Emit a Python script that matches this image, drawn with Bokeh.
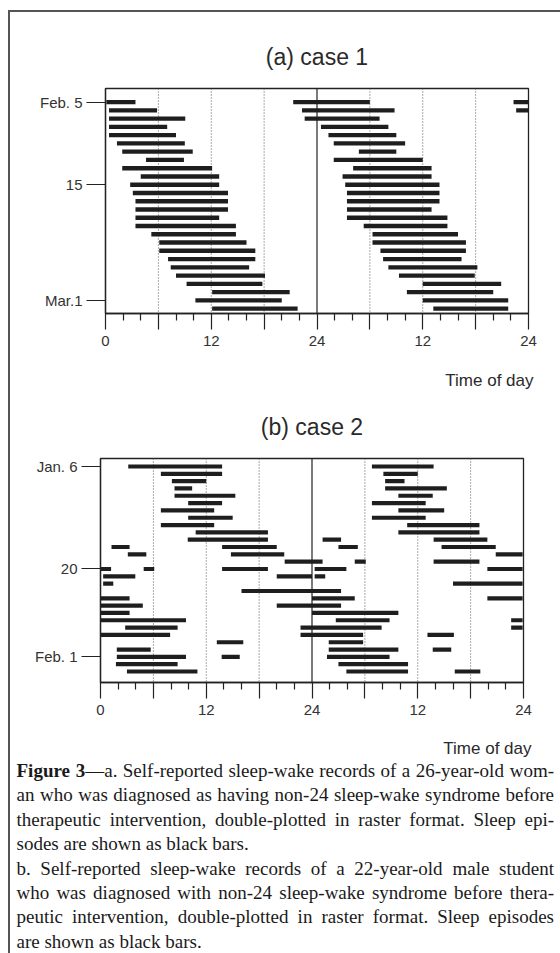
from bokeh.plotting import figure
from bokeh.models import Range1d, FixedTicker, Span, ColumnDataSource
from bokeh.layouts import column
from bokeh.core.properties import value
from bokeh.embed import file_html
from bokeh.resources import INLINE

# ---------------- data: panel (a) case 1 (row = day from Feb. 5, hours 0-48 double plot)
a_row = [0, 0, 0, 1, 1, 1, 2, 2, 3, 3, 4, 4, 5, 5, 6, 6, 7, 7, 8, 8, 9, 9, 10, 10,
         11, 11, 12, 12, 13, 13, 14, 14, 15, 15, 16, 16, 17, 17, 18, 18, 19, 19,
         20, 20, 21, 21, 22, 22, 23, 23, 24, 24, 25, 25]
a_start = [0.1, 21.3, 46.3, 0.4, 22.3, 46.6, 0.4, 22.6, 0.4, 24.45, 0.4, 25.3,
           1.3, 25.9, 1.9, 28.75, 4.6, 25.9, 1.9, 28.1, 4.0, 26.9, 2.8, 27.2,
           3.1, 27.4, 3.4, 27.4, 3.4, 27.4, 3.4, 27.4, 3.4, 29.3, 5.2, 30.3,
           6.1, 30.3, 6.1, 31.2, 7.1, 31.5, 7.4, 32.1, 8.0, 33.3, 9.2, 36.0,
           12.1, 34.2, 10.2, 36.0, 12.1, 37.2]
a_end = [3.4, 30.0, 48.0, 5.85, 32.8, 48.0, 9.05, 31.1, 7.0, 32.1, 8.0, 33.0,
         9.0, 34.0, 9.9, 33.0, 8.9, 36.0, 12.1, 37.0, 12.9, 37.0, 12.9, 37.9,
         13.9, 37.9, 13.9, 37.9, 13.9, 37.0, 12.9, 38.8, 14.8, 38.8, 14.8, 40.0,
         16.0, 40.9, 17.0, 40.9, 17.0, 40.4, 16.3, 42.2, 18.1, 41.9, 17.8, 44.9,
         20.9, 44.0, 20.0, 45.7, 21.8, 45.7]
a_yticks = [0, 10, 24]
a_ylabels = ["Feb. 5", "15", "Mar.1"]

# ---------------- data: panel (b) case 2 (row = day from Jan. 6)
b_row = [0, 0, 1, 1, 2, 2, 3, 3, 4, 4, 5, 5, 6, 6, 7, 7, 8, 8, 9, 9,
         10, 10, 10, 11, 11, 11, 11, 12, 12, 12, 13, 13, 13,
         14, 14, 14, 14, 14, 15, 15, 15, 16, 16, 17, 18, 18, 18, 19, 19,
         20, 20, 21, 21, 21, 22, 22, 22, 23, 23, 23, 24, 24,
         25, 25, 25, 26, 26, 26, 27, 27, 28, 28, 28]
b_start = [3.15, 30.8, 6.85, 32.1, 8.1, 32.3, 8.4, 32.3, 8.4, 33.8, 9.95, 30.8,
           6.85, 33.8, 9.95, 30.8, 6.85, 34.8, 10.8, 33.8,
           9.9, 25.2, 37.8, 1.25, 13.8, 27.0, 38.7, 3.1, 14.8, 44.85, 20.9, 28.85, 37.8,
           0.0, 4.9, 13.8, 24.3, 43.9, 0.3, 20.0, 24.3, 0.3, 40.0, 16.0, 0.0, 24.0, 43.9,
           0.0, 20.0, 0.0, 24.0, 0.0, 26.7, 46.6, 2.8, 22.7, 46.6, 0.0, 22.7, 37.1,
           13.2, 25.9, 1.85, 25.9, 37.7, 1.85, 13.75, 25.7, 1.75, 27.0, 3.0, 27.9, 40.2]
b_end = [13.8, 37.8, 13.8, 36.0, 12.0, 34.5, 10.4, 39.3, 15.3, 37.7, 13.8, 36.9,
         12.9, 39.0, 15.0, 36.9, 12.9, 43.0, 19.0, 43.0,
         19.0, 27.3, 43.9, 3.3, 20.0, 29.2, 44.85, 5.2, 20.85, 47.9, 25.2, 30.1, 43.0,
         1.2, 6.1, 19.0, 27.9, 47.9, 3.95, 24.0, 25.5, 1.45, 47.9, 27.3, 3.3, 28.85, 47.9,
         4.8, 27.3, 3.3, 33.8, 9.7, 32.8, 47.9, 8.75, 31.9, 47.9, 7.9, 29.8, 40.1,
         16.2, 29.8, 5.7, 33.8, 39.8, 9.7, 15.8, 32.8, 8.75, 34.9, 11.0, 34.9, 43.1]
b_yticks = [0, 14, 26]
b_ylabels = ["Jan. 6", "20", "Feb. 1"]

x_major = [0, 6, 12, 18, 24, 30, 36, 42, 48]
x_minor = [2, 4, 8, 10, 14, 16, 20, 22, 26, 28, 32, 34, 38, 40, 44, 46]
x_labels = ["0", "", "12", "", "24", "", "12", "", "24"]
dotted_hours = [6, 12, 18, 30, 36, 42]
solid_hours = [24]

titles = ["(a) case 1", "(b) case 2"]
x_title = "Time of day"
caption_lines = [
    "**Figure 3**—a. Self-reported sleep-wake records of a 26-year-old wom-",
    "an who was diagnosed as having non-24 sleep-wake syndrome before",
    "therapeutic intervention, double-plotted in raster format. Sleep epi-",
    "sodes are shown as black bars.",
    "b. Self-reported sleep-wake records of a 22-year-old male student",
    "who was diagnosed with non-24 sleep-wake syndrome before thera-",
    "peutic intervention, double-plotted in raster format. Sleep episodes",
    "are shown as black bars.",
]
caption_justify = [True, True, True, False, True, True, True, False]

assert len(a_row) == len(a_start) == len(a_end)
assert len(b_row) == len(b_start) == len(b_end)

SANS = "Liberation Sans"
INK = "#1e1e1e"
W = 560


def no_align(p):
    try:
        p.frame_align = False
    except Exception:
        pass
    return p


def text_fig(height):
    f = figure(width=W, height=height, x_range=Range1d(0, W), y_range=Range1d(height, 0),
               toolbar_location=None, output_backend="svg", min_border=0,
               x_axis_type=None, y_axis_type=None)
    f.grid.visible = False
    f.outline_line_color = None
    f.border_fill_color = None
    f.background_fill_color = None
    return no_align(f)


def add_text(f, xs, ys, texts, size, align, font=SANS, style="normal", color="#2a2a2a"):
    f.text(x="x", y="y", text="text", source=ColumnDataSource(dict(x=xs, y=ys, text=texts)),
           text_font=value(font), text_font_size=value(size), text_font_style=style,
           text_baseline="middle", text_align=align, text_color=color)


def make_panel(rows, starts, ends, yr, yticks, ylabels, height, mb, bar_h):
    p = figure(width=W, height=height, x_range=Range1d(0, 48), y_range=Range1d(*yr),
               toolbar_location=None, output_backend="svg",
               min_border_left=mb[0], min_border_right=mb[1],
               min_border_top=mb[2], min_border_bottom=mb[3])
    p.border_fill_color = None
    p.background_fill_color = None
    p.outline_line_color = "#222222"
    p.outline_line_width = 1.3
    p.grid.grid_line_color = None

    for h in dotted_hours:
        p.add_layout(Span(location=h, dimension="height", line_color="#555555",
                          line_dash="1 2", line_width=1, level="underlay"))
    for h in solid_hours:
        p.add_layout(Span(location=h, dimension="height", line_color="#222222",
                          line_width=1.2, level="underlay"))

    src = ColumnDataSource(dict(y=rows, left=starts, right=ends))
    p.hbar(y="y", left="left", right="right", height=bar_h, source=src,
           fill_color=INK, line_color=None)

    xa = p.xaxis[0]
    xa.ticker = FixedTicker(ticks=x_major, minor_ticks=x_minor)
    xa.major_label_overrides = {t: l for t, l in zip(x_major, x_labels)}
    xa.major_tick_in = 0
    xa.major_tick_out = 16
    xa.minor_tick_in = 0
    xa.minor_tick_out = 7
    xa.major_label_standoff = 6
    xa.axis_line_color = "#222222"
    xa.axis_line_width = 1.3
    xa.major_tick_line_color = "#222222"
    xa.major_tick_line_width = 1.2
    xa.minor_tick_line_color = "#222222"
    xa.minor_tick_line_width = 1.2

    ya = p.yaxis[0]
    ya.ticker = FixedTicker(ticks=yticks, minor_ticks=[])
    ya.major_label_overrides = {t: l for t, l in zip(yticks, ylabels)}
    ya.major_tick_in = 0
    ya.major_tick_out = 19
    ya.minor_tick_line_color = None
    ya.major_label_standoff = 4
    ya.axis_line_color = "#222222"
    ya.axis_line_width = 1.3
    ya.major_tick_line_color = "#222222"
    ya.major_tick_line_width = 1.2

    for ax in (xa, ya):
        ax.major_label_text_font = SANS
        ax.major_label_text_font_size = "15px"
        ax.major_label_text_color = "#333333"
    return no_align(p)


# page strips (heights add up to 953)
t1 = text_fig(80)                       # 0..80
add_text(t1, [316.5], [56], [titles[0]], "23px", "center")

fa = make_panel(a_row, a_start, a_end, (25.6, -1.66), a_yticks, a_ylabels,
                278, (105, 32, 8, 45), 0.52)  # 80..358, frame 88..313

t2 = text_fig(92)                       # 358..450
add_text(t2, [533], [22], [x_title], "17px", "right")
add_text(t2, [311.5], [68], [titles[1]], "23px", "center")

fb = make_panel(b_row, b_start, b_end, (29.5, -1.09), b_yticks, b_ylabels,
                278, (100, 37, 8, 46), 0.57)  # 450..728, frame 458..682

fc = text_fig(225)                      # 728..953
add_text(fc, [531], [20], [x_title], "17px", "right")

# ---------------- caption (justified with Times/Liberation Serif metrics)
FS = 19.0
TR = dict(zip("abcdefghijklmnopqrstuvwxyz",
              [444, 500, 444, 500, 444, 333, 500, 500, 278, 278, 500, 278, 778,
               500, 500, 500, 500, 333, 389, 278, 500, 500, 722, 500, 500, 444]))
TR.update({" ": 250, "-": 333, ".": 250, ",": 250, "\u2014": 1000, "S": 556, "F": 556})
for d in "0123456789":
    TR[d] = 500
TB = {"F": 611, "i": 278, "g": 500, "u": 556, "r": 444, "e": 444, "3": 500, " ": 250}


def tw(s, bold):
    tab = TB if bold else TR
    return sum(tab.get(c, 500) for c in s) * FS / 1000.0


X0, X1 = 16.0, 553.5
Y0, DY = 42.0, 24.4
reg = dict(x=[], y=[], text=[])
bld = dict(x=[], y=[], text=[])
state = False
for i, (line, just) in enumerate(zip(caption_lines, caption_justify)):
    words = []
    for w in line.split(" "):
        parts = w.split("**")
        runs = []
        for k, part in enumerate(parts):
            if k > 0:
                state = not state
            if part:
                runs.append((part, state))
        words.append(runs)
    wid = [sum(tw(t, b) for t, b in runs) for runs in words]
    gap = (X1 - X0 - sum(wid)) / (len(words) - 1) if just else tw(" ", False)
    x = X0
    y = Y0 + DY * i
    for runs, wv in zip(words, wid):
        xx = x
        for t, b in runs:
            d = bld if b else reg
            d["x"].append(xx)
            d["y"].append(y)
            d["text"].append(t)
            xx += tw(t, b)
        x += wv + gap

add_text(fc, reg["x"], reg["y"], reg["text"], "19px", "left", font="Liberation Serif",
         color="#1a1a1a")
add_text(fc, bld["x"], bld["y"], bld["text"], "19px", "left", font="Liberation Serif",
         style="bold", color="#1a1a1a")

layout = column(t1, fa, t2, fb, fc, styles={
    "background-image": "linear-gradient(#555555, #555555), linear-gradient(#555555, #555555)",
    "background-size": "2px 944px, 552px 2px",
    "background-position": "8px 10px, 8px 10px",
    "background-repeat": "no-repeat",
    "background-color": "#ffffff",
})

open("out.html", "w").write(file_html(layout, INLINE))
